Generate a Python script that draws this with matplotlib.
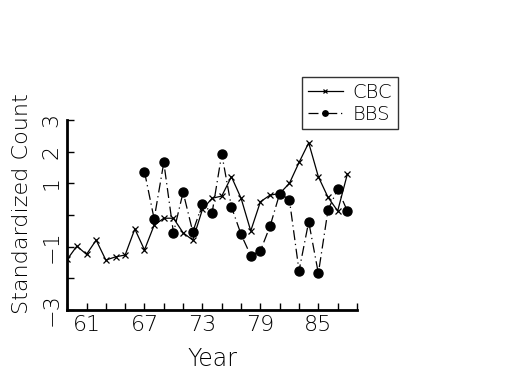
import matplotlib
matplotlib.use('Agg')
import matplotlib.pyplot as plt

plt.rcParams['font.family'] = ['DejaVu Sans']
plt.rcParams['font.weight'] = 'light'
plt.rcParams['axes.labelweight'] = 'light'

cbc_years = list(range(59, 89))
cbc = [-1.4, -0.98, -1.24, -0.79, -1.42, -1.32, -1.26, -0.44, -1.1, -0.32,
       -0.1, -0.1, -0.56, -0.79, 0.18, 0.53, 0.6, 1.21, 0.53, -0.5,
       0.42, 0.63, 0.68, 1.0, 1.66, 2.28, 1.21, 0.56, 0.13, 1.29]

bbs_years = list(range(67, 89))
bbs = [1.37, -0.12, 1.66, -0.56, 0.72, -0.53, 0.35, 0.07, 1.93, 0.26,
       -0.61, -1.28, -1.13, -0.35, 0.68, 0.49, -1.76, -0.21, -1.84, 0.16,
       0.82, 0.13]

xticks = list(range(59, 90, 2))
xlabels = {61: '61', 67: '67', 73: '73', 79: '79', 85: '85'}
yticks = [-3, -2, -1, 0, 1, 2, 3]
ylabels = {3: '3', 2: '2', 1: '1', -1: '\u22121', -3: '\u22123'}

fig = plt.figure(figsize=(5.25, 3.75), dpi=100)
ax = fig.add_axes([0.128, 0.173, 0.552, 0.507])

ax.plot(cbc_years, cbc, color='black', lw=0.9, marker='x', ms=4.5, mew=0.9, label='CBC')
ax.plot(bbs_years, bbs, color='black', lw=0.9, ls=(0, (8, 3, 1, 3)), marker='o', ms=6.5,
        label='BBS')

ax.set_xlim(59, 89)
ax.set_ylim(-3, 3)
ax.set_xticks(xticks)
ax.set_xticklabels([xlabels.get(t, '') for t in xticks])
ax.set_yticks(yticks)
ax.set_yticklabels([ylabels.get(t, '') for t in yticks])

for s in ['top', 'right']:
    ax.spines[s].set_visible(False)
for s in ['left', 'bottom']:
    ax.spines[s].set_linewidth(2)

ax.tick_params(direction='in', length=5, width=1, labelsize=16)
ax.tick_params(axis='y', labelrotation=90, pad=4)
for lab in ax.get_yticklabels():
    lab.set_verticalalignment('center')

ax.set_xlabel('Year', fontsize=17, labelpad=9, fontweight='light')
ax.set_ylabel('Standardized Count', fontsize=16, fontweight='light')
ax.yaxis.set_label_coords(-0.12, 0.56)

leg = fig.legend(loc='upper left', bbox_to_anchor=(0.575, 0.795), fontsize=14,
                 frameon=True, fancybox=False, edgecolor='black', handlelength=1.8,
                 borderpad=0.3, labelspacing=0.15, handletextpad=0.5,
                 markerscale=0.6, borderaxespad=0)
leg.get_frame().set_linewidth(1)

fig.savefig('out.png', dpi=100)
